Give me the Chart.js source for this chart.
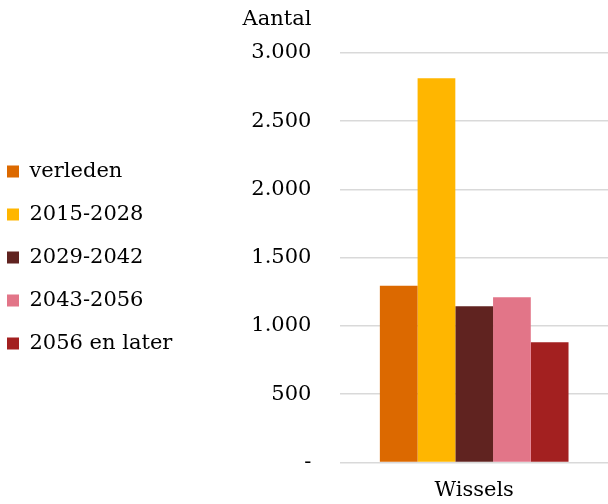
<!DOCTYPE html>
<html>
<head>
<meta charset="utf-8">
<script src="https://cdn.jsdelivr.net/npm/chart.js@4"></script>
<style>
  html, body { margin: 0; padding: 0; background: #fff; }
  #wrap { width: 608px; height: 504px; }
</style>
</head>
<body>
<div id="wrap"><canvas id="chart"></canvas></div>
<script>
'use strict';

// Data.
const categories = ['Wissels'];
const seriesNames = ['verleden', '2015-2028', '2029-2042', '2043-2056', '2056 en later'];
const seriesValues = [1295, 2815, 1145, 1210, 880];
const seriesColors = ['#DC6900', '#FFB600', '#602320', '#E27588', '#A32020'];
const yTickValues = [0, 500, 1000, 1500, 2000, 2500, 3000];
const yTickLabels = ['-', '500', '1.000', '1.500', '2.000', '2.500', '3.000'];
const yAxisTitle = 'Aantal';

const FONT = "'DejaVu Serif', Georgia, serif";
const FONT_SIZE = 21;

// Draws the axis title above the tick labels, like the original.
const axisTitlePlugin = {
  id: 'axisTitle',
  afterDraw(chart) {
    const y = chart.scales.y;
    const ctx = chart.ctx;
    ctx.save();
    ctx.font = FONT_SIZE + 'px ' + FONT;
    ctx.fillStyle = '#000';
    ctx.textAlign = 'right';
    ctx.textBaseline = 'middle';
    ctx.fillText(yAxisTitle, y.right - y.options.ticks.padding, y.top - 33);
    ctx.restore();
  }
};

// Nudges the legend block up and to the left, as in the original.
const legendShiftPlugin = {
  id: 'legendShift',
  afterLayout(chart) {
    const lg = chart.legend;
    if (!lg) return;
    lg.left -= 15;
    lg.right -= 15;
    lg.top -= 28;
    lg.bottom -= 28;
  }
};

const datasets = seriesNames.map((name, i) => ({
  label: name,
  data: [seriesValues[i]],
  backgroundColor: seriesColors[i],
  borderWidth: 0,
  categoryPercentage: 0.705,
  barPercentage: 1.0
}));

new Chart(document.getElementById('chart'), {
  type: 'bar',
  data: { labels: categories, datasets: datasets },
  plugins: [axisTitlePlugin, legendShiftPlugin],
  options: {
    responsive: true,
    maintainAspectRatio: false,
    animation: false,
    layout: { padding: { top: 53, right: 0, bottom: -14, left: 0 } },
    plugins: {
      tooltip: { enabled: false },
      legend: {
        position: 'left',
        maxWidth: 240,
        labels: {
          color: '#000',
          font: { family: FONT, size: FONT_SIZE },
          boxWidth: 12,
          boxHeight: 12,
          padding: 22
        }
      }
    },
    scales: {
      x: {
        grid: { display: false },
        border: { display: false },
        ticks: { color: '#000', font: { family: FONT, size: FONT_SIZE }, padding: 8 }
      },
      y: {
        min: 0,
        max: 3000,
        afterBuildTicks(scale) {
          scale.ticks = yTickValues.map(v => ({ value: v }));
        },
        afterFit(scale) {
          scale.width = 143;
        },
        grid: { color: '#D9D9D9', lineWidth: 1.5, drawTicks: false },
        border: { display: false },
        ticks: {
          color: '#000',
          font: { family: FONT, size: FONT_SIZE },
          padding: 29,
          callback: (value) => yTickLabels[yTickValues.indexOf(value)]
        }
      }
    }
  }
});
</script>
</body>
</html>
